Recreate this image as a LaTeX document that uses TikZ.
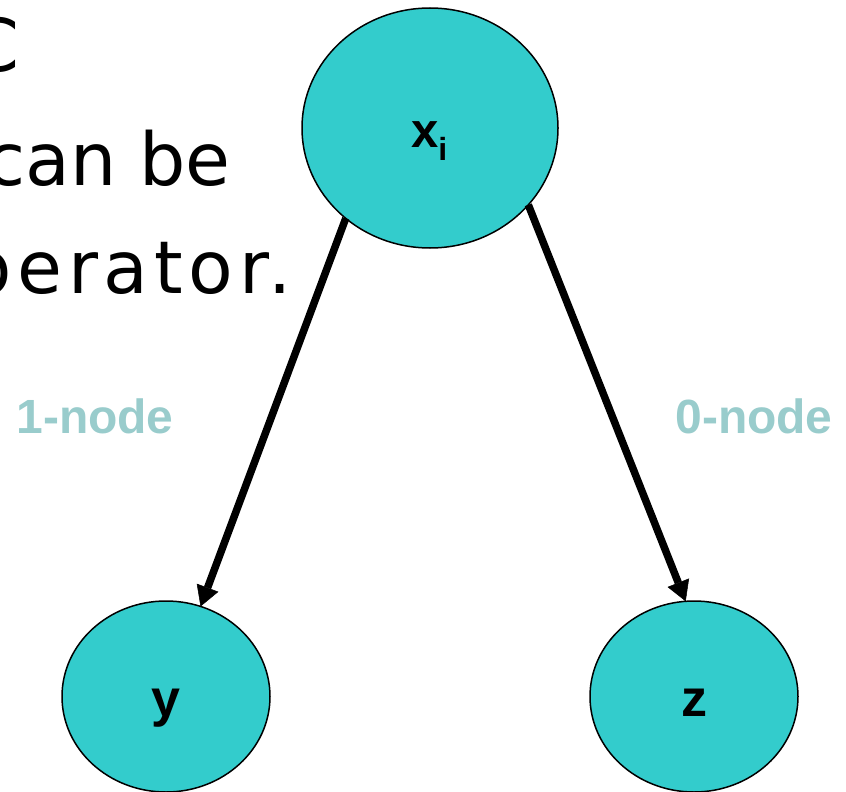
\documentclass[tikz,border=0pt]{standalone}
\usepackage{fontspec}
\setmainfont{DejaVu Sans}
\newfontfamily\labelfont{Liberation Sans}
\usetikzlibrary{arrows.meta,shapes.geometric}
\definecolor{nodefill}{RGB}{51,204,204}
\definecolor{branchgray}{RGB}{153,204,204}
\tikzset{
  bddnode/.style={ellipse, draw=black, line width=1.5pt, fill=nodefill,
    inner sep=0pt, outer sep=0pt},
  bddedge/.style={line width=7.5pt, draw=black,
    -{Triangle[length=20pt,width=23pt,line width=0.5pt]}},
  slidetext/.style={inner sep=0pt, anchor=base west,
    font=\fontsize{73}{88}\selectfont},
  varname/.style={inner sep=0pt, anchor=base,
    font=\labelfont\bfseries\fontsize{52}{52}\selectfont},
  branchname/.style={inner sep=0pt, anchor=base, text=branchgray,
    font=\labelfont\bfseries\fontsize{48}{48}\selectfont},
}
\begin{document}
\begin{tikzpicture}[x=1pt,y=-1pt]
  \useasboundingbox (0,0) rectangle (846,792);
  \clip (0,0) rectangle (846,792);

  % slide text running off the left edge
  \node[slidetext] (line1) at (-32,71) {C};
  \node[slidetext] (line2) at (-15,185) {can be};
  \node[slidetext] (line3) at (-35,293)
    {\addfontfeature{LetterSpace=8}perator.};

  % decision node and its two children
  \node[bddnode, minimum width=256pt, minimum height=240pt] (xi) at (430,128) {};
  \node[bddnode, minimum width=208pt, minimum height=191pt] (y) at (166,696.5) {};
  \node[bddnode, minimum width=208pt, minimum height=191pt] (z) at (694,696.5) {};

  % node names
  \node[inner sep=0pt, anchor=base west,
        font=\labelfont\bfseries\fontsize{49}{49}\selectfont] (xilbl) at (411,147)
    {x\raisebox{-13pt}{\fontsize{32}{32}\selectfont i}};
  \node[varname] (ylbl) at (166,716) {y};
  \node[varname] (zlbl) at (694,716) {z};

  % branches
  \draw[bddedge] (xi.227.7) -- (y.69.6);
  \draw[bddedge] (xi.322.7) -- (z.95.3);

  % branch labels
  \node[branchname] (one) at (95,433) {1-node};
  \node[branchname] (zero) at (754,433) {0-node};
\end{tikzpicture}
\end{document}
